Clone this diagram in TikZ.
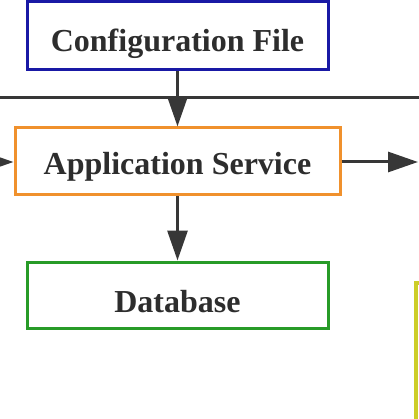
\documentclass[tikz,border=0pt]{standalone}
\usepackage{fontspec}
\setmainfont{Liberation Serif}
\usetikzlibrary{arrows.meta}
\definecolor{cfgblue}{RGB}{25,25,165}
\definecolor{apporange}{RGB}{240,145,45}
\definecolor{dbgreen}{RGB}{40,155,40}
\definecolor{yelbox}{RGB}{205,205,40}
\definecolor{linegray}{RGB}{55,55,55}
\definecolor{textgray}{RGB}{45,45,45}
\tikzset{
  box/.style={draw, line width=3pt, fill=white, inner sep=0pt, text=textgray,
    font=\fontsize{32}{38}\selectfont\bfseries, text depth=0pt},
  conn/.style={draw=linegray, line width=3pt, -{Triangle[width=20pt,length=30pt]}},
  plain/.style={draw=linegray, line width=3pt}
}
\begin{document}
\begin{tikzpicture}[x=1pt,y=-1pt]
\useasboundingbox (0,0) rectangle (419,419);
\node[box, draw=cfgblue, minimum width=301pt, minimum height=68pt, text height=33pt] (cfg) at (177.5,35.5) {Configuration File};
\node[box, draw=apporange, minimum width=325pt, minimum height=67pt, text height=27pt] (app) at (177.5,161.5) {Application Service};
\node[box, draw=dbgreen, minimum width=301pt, minimum height=66pt, text height=34pt] (db) at (177.5,295) {Database};
\node[draw=yelbox, line width=4pt, anchor=north west, minimum width=100pt, minimum height=200pt] (yel) at (414,281) {};
\coordinate (hl) at (-5,98);
\coordinate (hr) at (425,98);
\coordinate (lin) at (-30,162);
\coordinate (rout) at (418,162);
\draw[plain] (hl) -- (hr);
\draw[conn] (cfg.south) -- (app.north);
\draw[conn] (app.south) -- (db.north);
\draw[conn] (lin) -- (app.west |- lin);
\draw[conn] (app.east |- rout) -- (rout);
\end{tikzpicture}
\end{document}
